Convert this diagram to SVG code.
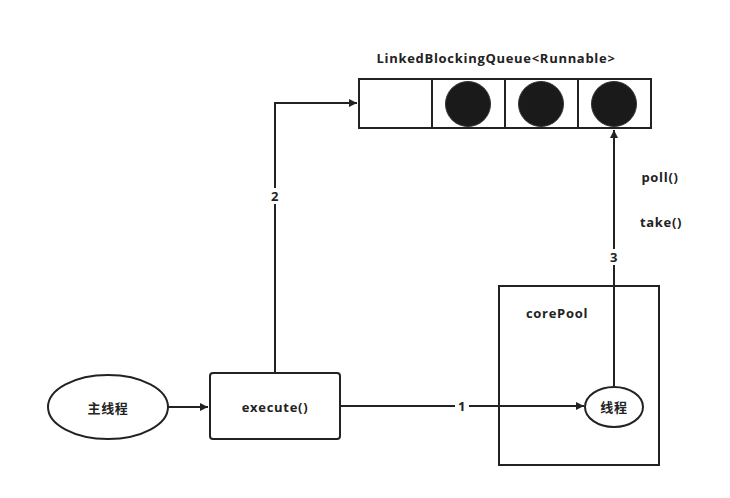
<svg xmlns="http://www.w3.org/2000/svg" width="730" height="498" viewBox="0 0 730 498">
<style>
.s{fill:none;stroke:#222;stroke-width:2}
.w{fill:#fff;stroke:#222;stroke-width:2}
.t{font-family:"Open Sans","Noto Sans CJK SC",sans-serif;font-size:13px;font-weight:bold;fill:#222;text-anchor:middle;dominant-baseline:central;letter-spacing:0.7px}
.lb{fill:#fff}
</style>
<defs>
<marker id="a" viewBox="0 0 10 10" refX="10" refY="5" markerWidth="8" markerHeight="8" markerUnits="userSpaceOnUse" orient="auto">
<path d="M0,0 L10,5 L0,10 z" fill="#222"/>
</marker>
</defs>
<rect width="730" height="498" fill="#fff"/>
<g id="queue">
<text class="t" x="496" y="58">LinkedBlockingQueue&lt;Runnable&gt;</text>
<rect class="w" x="359" y="79" width="292" height="49"/>
<path class="s" d="M432,79V128M505,79V128M578,79V128"/>
<circle cx="468" cy="104" r="22.5" fill="#1a1a1a" stroke="#333" stroke-width="1"/>
<circle cx="541" cy="104" r="22.5" fill="#1a1a1a" stroke="#333" stroke-width="1"/>
<circle cx="614" cy="104" r="22.5" fill="#1a1a1a" stroke="#333" stroke-width="1"/>
</g>
<g id="corePool">
<rect class="w" x="499" y="286" width="160" height="179"/>
<text class="t" x="557" y="313">corePool</text>
</g>
<g id="main">
<ellipse class="w" cx="108" cy="407" rx="60" ry="32"/>
<text class="t" x="108" y="408">主线程</text>
</g>
<g id="execute">
<rect class="w" x="210" y="373" width="130" height="66" rx="3"/>
<text class="t" x="275" y="407">execute()</text>
</g>
<g id="connectors">
<path class="s" d="M168,407H208" marker-end="url(#a)"/>
<path class="s" d="M275,373V103H357" marker-end="url(#a)"/>
<rect class="lb" x="268" y="188" width="14" height="16"/>
<text class="t" x="275" y="196">2</text>
<path class="s" d="M340,406H584" marker-end="url(#a)"/>
<rect class="lb" x="455" y="398" width="14" height="16"/>
<text class="t" x="462" y="406">1</text>
<path class="s" d="M614,387V130" marker-end="url(#a)"/>
<rect class="lb" x="607" y="249" width="14" height="16"/>
<text class="t" x="614" y="257">3</text>
<text class="t" x="660" y="177">poll()</text>
<text class="t" x="661" y="222">take()</text>
</g>
<g id="worker">
<ellipse class="w" cx="614" cy="407" rx="29" ry="20"/>
<text class="t" x="614" y="407">线程</text>
</g>
</svg>
